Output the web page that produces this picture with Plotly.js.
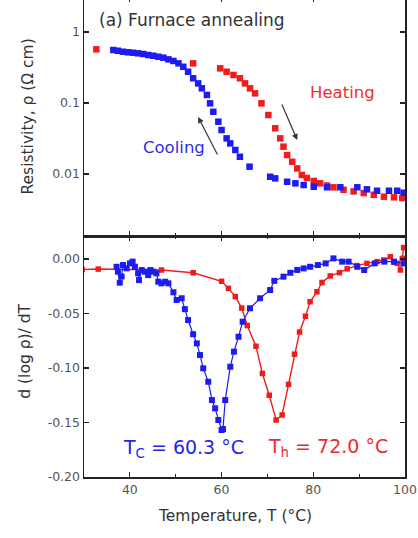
<!DOCTYPE html>
<html>
<head>
<meta charset="utf-8">
<script src="https://cdn.plot.ly/plotly-3.0.1.min.js"></script>
<style>
  html, body { margin: 0; padding: 0; background: #fff; overflow: hidden; }
  #chart { position: absolute; left: 0; top: -10px; width: 418px; height: 548px; }
</style>
</head>
<body>
<div id="chart"></div>
<script>
// ---- Top panel: resistivity (Ohm cm) vs temperature (°C) ----
const heatT = [32.7, 53.8, 59.7, 61.1, 62.6, 64.0, 65.1, 66.2, 67.3, 68.7, 70.2, 71.7, 72.8, 73.5, 74.3, 75.4, 76.5, 77.5, 78.6, 80.1, 81.5, 83.0, 84.4, 86.6, 88.8, 91.0, 93.2, 95.4, 97.6, 99.4];
const heatRho = [0.570, 0.362, 0.308, 0.276, 0.248, 0.223, 0.189, 0.161, 0.137, 0.099, 0.0678, 0.0441, 0.0318, 0.0243, 0.0185, 0.0149, 0.0120, 0.0097, 0.0088, 0.0080, 0.0074, 0.0069, 0.0065, 0.0060, 0.0057, 0.0054, 0.0051, 0.0048, 0.0047, 0.0046];

const coolT = [36.4, 37.4, 38.5, 39.6, 40.7, 41.8, 42.9, 44.0, 45.1, 46.2, 47.3, 48.4, 49.5, 50.6, 51.65, 52.7, 53.8, 54.9, 55.7, 56.8, 57.5, 58.2, 59.3, 60.0, 61.1, 61.9, 63.0, 64.0, 66.1, 70.6, 71.7, 74.3, 76.1, 77.9, 80.1, 83.0, 85.9, 89.6, 91.7, 93.9, 96.5, 98.3, 99.7];
const coolRho = [0.558, 0.545, 0.528, 0.518, 0.511, 0.501, 0.490, 0.474, 0.463, 0.449, 0.435, 0.412, 0.391, 0.362, 0.324, 0.276, 0.223, 0.189, 0.161, 0.130, 0.099, 0.0753, 0.0546, 0.0417, 0.0318, 0.0270, 0.0218, 0.0175, 0.0127, 0.00916, 0.00869, 0.00779, 0.00740, 0.00700, 0.00663, 0.00651, 0.00651, 0.00651, 0.00609, 0.00582, 0.00582, 0.00582, 0.00546];

// ---- Bottom panel: d(log rho)/dT ----
const dHeatT = [29.6, 33.1, 46.9, 53.8, 60.0, 61.5, 63.0, 64.4, 65.6, 67.5, 68.9, 70.4, 71.9, 73.2, 74.6, 75.9, 77.0, 78.3, 79.3, 80.8, 81.9, 83.7, 85.7, 87.4, 89.5, 91.7, 93.9, 95.4, 96.8, 97.6, 98.3, 99.0, 99.4, 99.7];
const dHeatV = [-0.0095, -0.0092, -0.0101, -0.0126, -0.0204, -0.0269, -0.0345, -0.0450, -0.0610, -0.0800, -0.1050, -0.1250, -0.1477, -0.1431, -0.1150, -0.0873, -0.0670, -0.0525, -0.0392, -0.0300, -0.0215, -0.0155, -0.0125, -0.0090, -0.0060, -0.0040, -0.0024, -0.0009, 0.0021, -0.0030, -0.0040, -0.0101, 0.0006, 0.0105];

const dCoolT = [37.1, 37.4, 37.8, 38.2, 38.5, 39.3, 40.0, 40.6, 41.1, 41.8, 42.0, 42.6, 43.3, 44.0, 44.5, 45.1, 45.8, 46.2, 46.9, 47.7, 48.4, 49.5, 50.2, 51.3, 52.0, 52.7, 53.8, 54.6, 55.3, 56.0, 57.1, 57.9, 58.6, 59.3, 60.0, 60.3, 60.8, 61.9, 62.7, 63.7, 64.6, 66.2, 68.4, 70.6, 71.5, 73.5, 75.0, 76.5, 77.9, 79.3, 81.0, 82.7, 84.4, 86.3, 87.7, 89.6, 91.1, 93.4, 95.5, 97.6, 99.7];
const dCoolV = [-0.0071, -0.0116, -0.0217, -0.0160, -0.0055, -0.0085, -0.0040, -0.0024, -0.0071, -0.0131, -0.0193, -0.0101, -0.0116, -0.0147, -0.0101, -0.0116, -0.0131, -0.0208, -0.0223, -0.0208, -0.0223, -0.0305, -0.0376, -0.0360, -0.0460, -0.0560, -0.0690, -0.0774, -0.0881, -0.1003, -0.1126, -0.1294, -0.1370, -0.1477, -0.1569, -0.1560, -0.1294, -0.0988, -0.0850, -0.0713, -0.0575, -0.0452, -0.0360, -0.0284, -0.0200, -0.0162, -0.0126, -0.0100, -0.0086, -0.0071, -0.0055, -0.0040, 0.0006, -0.0024, -0.0024, -0.0071, -0.0101, -0.0040, -0.0024, -0.0024, -0.0040];

// ---- Tick labels ----
const xTickVals = [40, 60, 80, 100];
const xTickText = ['40', '60', '80', '100'];
const rhoTickVals = [0.01, 0.1, 1];
const rhoTickText = ['0.01', '0.1', '1'];
const dTickVals = [0.00, -0.05, -0.10, -0.15, -0.20];
const dTickText = ['0.00', '-0.05', '-0.10', '-0.15', '-0.20'];

const RED = '#f01c1c';
const BLUE = '#1c1cf0';
const FONT = 'DejaVu Sans, Verdana, sans-serif';

const traces = [
  { x: heatT, y: heatRho, xaxis: 'x2', yaxis: 'y2', type: 'scatter', mode: 'markers',
    marker: { symbol: 'square', size: 6.5, color: RED } },
  { x: coolT, y: coolRho, xaxis: 'x2', yaxis: 'y2', type: 'scatter', mode: 'markers',
    marker: { symbol: 'square', size: 6.5, color: BLUE } },
  { x: dHeatT, y: dHeatV, xaxis: 'x', yaxis: 'y', type: 'scatter', mode: 'lines+markers',
    line: { color: RED, width: 1.4 }, marker: { symbol: 'square', size: 5.5, color: RED } },
  { x: dCoolT, y: dCoolV, xaxis: 'x', yaxis: 'y', type: 'scatter', mode: 'lines+markers',
    line: { color: BLUE, width: 1.2 }, marker: { symbol: 'square', size: 6, color: BLUE } }
];

const axisCommon = {
  showline: true, linecolor: '#222', linewidth: 1.5, mirror: 'ticks',
  ticks: 'inside', ticklen: 5, tickwidth: 1.2, tickcolor: '#222',
  showgrid: false, zeroline: false,
  tickfont: { family: FONT, size: 12.5, color: '#555' }
};

const layout = {
  width: 418, height: 548,
  margin: { l: 84, r: 13, t: 7, b: 61 },
  paper_bgcolor: '#fff', plot_bgcolor: '#fff',
  showlegend: false,
  font: { family: FONT, color: '#333' },
  xaxis: Object.assign({}, axisCommon, {
    domain: [0, 1], range: [30, 100], anchor: 'y',
    tickvals: xTickVals, ticktext: xTickText,
    minor: { dtick: 10, tick0: 0, ticks: 'inside', ticklen: 3, tickwidth: 1, tickcolor: '#222', showgrid: false }
  }),
  xaxis2: Object.assign({}, axisCommon, {
    domain: [0, 1], range: [30, 100], anchor: 'y2', matches: 'x',
    tickvals: xTickVals, ticktext: xTickText, showticklabels: false,
    minor: { dtick: 10, tick0: 0, ticks: 'inside', ticklen: 3, tickwidth: 1, tickcolor: '#222', showgrid: false }
  }),
  yaxis: Object.assign({}, axisCommon, {
    domain: [0, 0.502], range: [-0.2, 0.0211], anchor: 'x',
    tickvals: dTickVals, ticktext: dTickText
  }),
  yaxis2: Object.assign({}, axisCommon, {
    domain: [0.502, 1], type: 'log', range: [-2.873, 0.493], anchor: 'x2',
    tickvals: rhoTickVals, ticktext: rhoTickText
  }),
  annotations: [
    { text: '(a) Furnace annealing', xref: 'x2', yref: 'y2', x: 32.8, y: 0.169,
      xanchor: 'left', yanchor: 'middle', showarrow: false,
      font: { family: FONT, size: 17, color: '#333' } },
    { text: 'Heating', xref: 'x2', yref: 'y2', x: 86.3, y: -0.845,
      xanchor: 'center', yanchor: 'middle', showarrow: false,
      font: { family: FONT, size: 16.5, color: '#ec3030' } },
    { text: 'Cooling', xref: 'x2', yref: 'y2', x: 49.6, y: -1.62,
      xanchor: 'center', yanchor: 'middle', showarrow: false,
      font: { family: FONT, size: 16.5, color: '#2e2ee8' } },
    { text: '', xref: 'x2', yref: 'y2', x: 54.9, y: -1.197, ax: 20, ay: 39,
      showarrow: true, arrowhead: 2, arrowsize: 1, arrowwidth: 1.2, arrowcolor: '#333' },
    { text: '', xref: 'x2', yref: 'y2', x: 76.5, y: -1.521, ax: -16, ay: -37,
      showarrow: true, arrowhead: 2, arrowsize: 1, arrowwidth: 1.2, arrowcolor: '#333' },
    { text: 'T<sub>C</sub> = 60.3 °C', xref: 'x', yref: 'y', x: 51.6, y: -0.1734,
      xanchor: 'center', yanchor: 'middle', showarrow: false,
      font: { family: FONT, size: 19, color: '#2424ec' } },
    { text: 'T<sub>h</sub> = 72.0 °C', xref: 'x', yref: 'y', x: 83.2, y: -0.1725,
      xanchor: 'center', yanchor: 'middle', showarrow: false,
      font: { family: FONT, size: 19, color: '#f02a2a' } },
    { text: 'Resistivity, ρ (Ω cm)', xref: 'paper', yref: 'y2 domain', x: 0, y: 0.5,
      xshift: -56, textangle: -90, xanchor: 'center', yanchor: 'middle', showarrow: false,
      font: { family: FONT, size: 15.5, color: '#333' } },
    { text: 'd (log ρ)/ dT', xref: 'paper', yref: 'y domain', x: 0, y: 0.52,
      xshift: -59, textangle: -90, xanchor: 'center', yanchor: 'middle', showarrow: false,
      font: { family: FONT, size: 15.5, color: '#333' } },
    { text: 'Temperature, T (°C)', xref: 'paper', yref: 'paper', x: 0.5, y: 0,
      xshift: -10, yshift: -39, xanchor: 'center', yanchor: 'middle', showarrow: false,
      font: { family: FONT, size: 15.5, color: '#333' } }
  ]
};

Plotly.newPlot('chart', traces, layout, { staticPlot: true, displayModeBar: false });
</script>
</body>
</html>
